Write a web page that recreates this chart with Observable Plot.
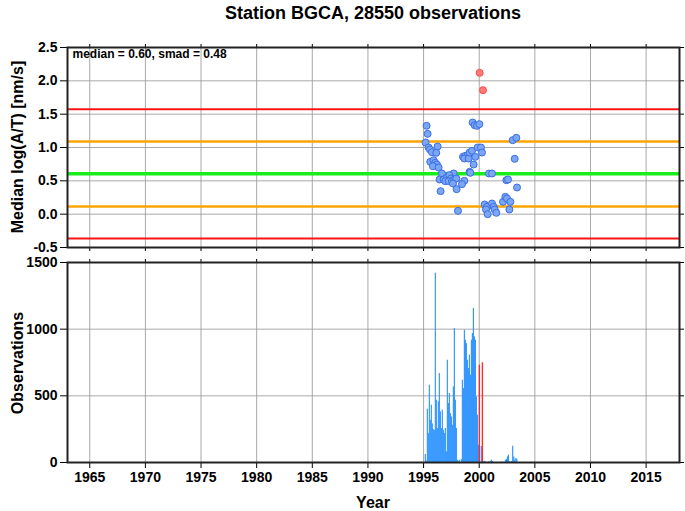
<!DOCTYPE html>
<html><head><meta charset="utf-8">
<script src="https://cdn.jsdelivr.net/npm/d3@7"></script>
<script src="https://cdn.jsdelivr.net/npm/@observablehq/plot@0.6"></script>
<style>
body{margin:0;background:#fff;}
#wrap{position:relative;width:685px;height:511px;font-family:"Liberation Sans",Arial,Helvetica,sans-serif;color:#000;overflow:hidden;background:#fff}
.abs{position:absolute}
.lbl{position:absolute;font-weight:bold;font-size:16px;white-space:nowrap;transform:translate(-50%,-50%);line-height:1}
.rot{transform:translate(-50%,-50%) rotate(-90deg)}
</style></head><body>
<div id="wrap">
 <div id="p1" class="abs" style="left:0;top:0"></div>
 <div id="p2" class="abs" style="left:0;top:255px"></div>
 <div id="title" class="lbl" style="left:373px;top:13px;font-size:18px"></div>
 <div class="lbl rot" style="left:18px;top:147px">Median log(A/T) [nm/s]</div>
 <div class="lbl rot" style="left:18px;top:363px">Observations</div>
 <div class="lbl" style="left:373px;top:503px">Year</div>
</div>
<script>
const station = "BGCA";
const totalObs = 28550;
const yearTicks = [1965, 1970, 1975, 1980, 1985, 1990, 1995, 2000, 2005, 2010, 2015];
const topTicks = [-0.5, 0, 0.5, 1.0, 1.5, 2.0, 2.5];
const obsTicks = [0, 500, 1000, 1500];
const median = 0.60, smad = 0.48;
const redLines = [1.575, -0.365];
const orangeLines = [1.09, 0.115];
const greenLines = [0.605];

const goodYears = [1995.27,1995.36,1995.18,1995.45,1995.57,1996.26,1995.75,1996.14,1995.60,1995.90,
  1996.05,1996.20,1995.84,1996.35,1996.65,1997.70,1996.44,1996.80,1997.10,1997.31,
  1997.46,1996.95,1997.25,1997.55,1997.76,1997.94,1997.64,1998.66,1998.45,1997.97,
  1996.53,1998.09,1998.54,1998.75,1998.96,1998.66,1999.05,1999.14,1999.35,1999.65,
  1999.50,1999.14,1999.20,1999.41,1999.59,1999.80,2000.01,1999.86,2000.16,2000.25,
  2000.88,2001.15,2000.49,2000.70,2000.61,2000.76,2001.15,2001.30,2001.39,2001.54,
  2002.14,2002.35,2002.50,2002.80,2002.71,2002.44,2002.59,2003.40,2003.19,2003.01,2003.34];
const goodValues = [1.325,1.205,1.075,1.00,0.97,1.015,0.93,0.92,0.785,0.81,
  0.77,0.745,0.72,0.70,0.61,0.61,0.52,0.52,0.55,0.585,
  0.535,0.495,0.495,0.495,0.52,0.535,0.46,0.50,0.45,0.375,
  0.345,0.05,0.86,0.875,0.885,0.835,0.835,0.925,0.95,0.86,
  0.745,0.635,0.62,1.375,1.335,1.325,1.35,1.00,1.00,0.925,
  0.61,0.61,0.145,0.11,0.07,0.00,0.16,0.11,0.07,0.02,
  0.185,0.26,0.235,0.185,0.07,0.51,0.52,0.40,0.83,1.11,1.145];
const outYears = [2000.04, 2000.34];
const outValues = [2.12, 1.86];

const barYears = [1995.15,1995.24,1995.33,1995.42,1995.51,1995.60,1995.69,1995.78,1995.87,1995.96,
  1996.05,1996.14,1996.23,1996.32,1996.41,1996.50,1996.59,1996.68,1996.77,1996.86,
  1996.95,1997.04,1997.13,1997.22,1997.31,1997.40,1997.49,1997.58,1997.67,1997.76,
  1997.85,1997.94,1998.03,1998.12,1998.21,1998.30,1998.39,1998.48,1998.57,1998.66,
  1998.75,1998.84,1998.93,1999.02,1999.11,1999.20,1999.29,1999.38,1999.47,1999.56,
  1999.65,1999.74,1999.83,1999.92,
  2000.18,2000.40,2000.49,2000.85,2001.00,2001.09,2001.18,2002.05,2002.35,2002.44,
  2002.53,2002.62,2002.74,2002.90,2003.00,2003.10,2003.19,2003.28,2003.37];
const barCounts = [60,10,400,217,580,317,430,290,247,240,
  1420,467,255,455,667,380,255,392,242,217,
  255,80,767,442,517,367,342,280,567,1005,
  467,255,17,5,17,0,22,617,555,992,
  917,892,767,705,805,655,917,967,1155,942,
  917,492,355,130,
  120,5,10,5,8,17,8,5,17,22,
  42,55,5,8,122,42,17,30,25];
const redBarYears = [2000.00, 2000.27];
const redBarCounts = [730, 748];
const barWidth = 0.105;
const redBarWidth = 0.12;

document.getElementById("title").textContent = `Station ${station}, ${totalObs} observations`;

const good = goodYears.map((year, i) => ({year, value: goodValues[i]}));
const out = outYears.map((year, i) => ({year, value: outValues[i]}));
const bars = barYears.map((year, i) => ({year, count: barCounts[i]})).filter(d => d.count > 0);
const redBars = redBarYears.map((year, i) => ({year, count: redBarCounts[i]}));

const style = {fontFamily: '"Liberation Sans", Arial, sans-serif', fontSize: "14px", fontWeight: "bold", background: "transparent", overflow: "visible", color: "#000"};
const gridStyle = {stroke: "#9a9a9a", strokeOpacity: 0.85, strokeWidth: 1};
const blank = () => "";

const p1 = Plot.plot({
  width: 685, height: 255, marginLeft: 67, marginRight: 6, marginTop: 47, marginBottom: 8,
  style,
  x: {domain: [1963, 2018]},
  y: {domain: [-0.5, 2.5]},
  marks: [
    Plot.gridX(yearTicks, gridStyle),
    Plot.gridY(topTicks, gridStyle),
    Plot.ruleY(redLines, {stroke: "#ff1414", strokeWidth: 2}),
    Plot.ruleY(orangeLines, {stroke: "#ffa500", strokeWidth: 2.5}),
    Plot.ruleY(greenLines, {stroke: "#1aee1a", strokeWidth: 3.5}),
    Plot.dot(good, {x: "year", y: "value", r: 3.5, fill: "#7ba6f3", stroke: "#3a6ee6", strokeWidth: 1}),
    Plot.dot(out, {x: "year", y: "value", r: 3.5, fill: "#ff7a7a", stroke: "#ff4a4a", strokeWidth: 1}),
    Plot.text([`median = ${median.toFixed(2)}, smad = ${smad.toFixed(2)}`], {frameAnchor: "top-left", dx: 5, dy: 2, textAnchor: "start", lineAnchor: "top", fontSize: 12, fontWeight: "bold"}),
    Plot.axisY(topTicks, {anchor: "left", tickSize: 7, tickPadding: 3, tickFormat: d => d.toFixed(1), label: null}),
    Plot.axisY(topTicks, {anchor: "right", tickSize: 4, tickFormat: blank, label: null}),
    Plot.axisX(yearTicks, {anchor: "top", tickSize: 4, tickFormat: blank, label: null}),
    Plot.axisX(yearTicks, {anchor: "bottom", tickSize: 4, tickFormat: blank, label: null}),
    Plot.frame({stroke: "#222", strokeWidth: 2})
  ]
});
document.getElementById("p1").append(p1);

const p2 = Plot.plot({
  width: 685, height: 256, marginLeft: 67, marginRight: 6, marginTop: 7, marginBottom: 49,
  style,
  x: {domain: [1963, 2018]},
  y: {domain: [0, 1500]},
  marks: [
    Plot.gridX(yearTicks, gridStyle),
    Plot.gridY(obsTicks, gridStyle),
    Plot.rect(bars, {x1: "year", x2: d => d.year + barWidth, y1: 0, y2: "count", fill: "#3396ff"}),
    Plot.rect(redBars, {x1: "year", x2: d => d.year + redBarWidth, y1: 0, y2: "count", fill: "#ff2a2a"}),
    Plot.axisY(obsTicks, {anchor: "left", tickSize: 7, tickPadding: 3, tickFormat: d => String(d), label: null}),
    Plot.axisY(obsTicks, {anchor: "right", tickSize: 4, tickFormat: blank, label: null}),
    Plot.axisX(yearTicks, {anchor: "top", tickSize: 4, tickFormat: blank, label: null}),
    Plot.axisX(yearTicks, {anchor: "bottom", tickSize: 6, tickPadding: 4, tickFormat: d => String(d), label: null}),
    Plot.frame({stroke: "#222", strokeWidth: 2})
  ]
});
document.getElementById("p2").append(p2);
</script>
</body></html>
